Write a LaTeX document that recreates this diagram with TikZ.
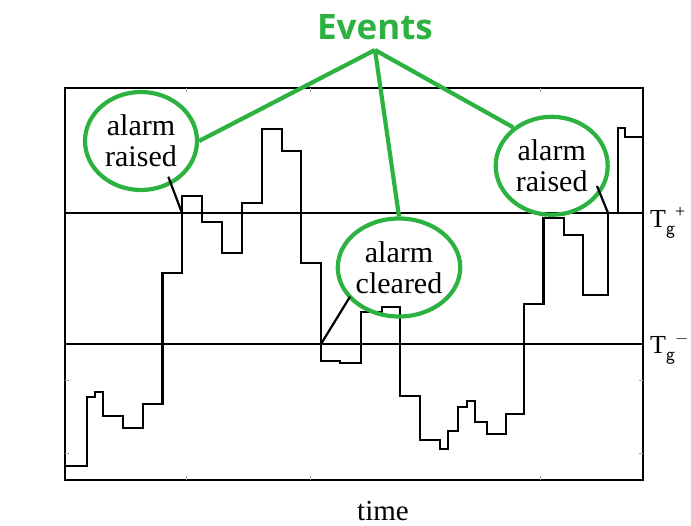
\documentclass[tikz,border=0pt]{standalone}
\usepackage{fontspec}
\setmainfont{Liberation Serif}
\newfontfamily\evfont{Open Sans}
\usetikzlibrary{shapes.geometric, positioning}
\definecolor{evgreen}{RGB}{44,178,64}

\tikzset{
  callout/.style={ellipse, draw=evgreen, line width=4.2pt, minimum width=112pt,
    minimum height=98pt, inner sep=0pt, align=center,
    font=\fontsize{30}{31}\selectfont},
  evline/.style={draw=evgreen, line width=4.2pt},
  sig/.style={line width=2.2pt, line join=miter},
  frame/.style={line width=2.2pt},
  tick/.style={line width=0.6pt, black!35},
  thr/.style={anchor=base west, inner sep=0pt, font=\fontsize{26}{28}\selectfont},
}

\begin{document}
\begin{tikzpicture}[x=1pt, y=-1pt]
        \useasboundingbox (0,0) rectangle (691,525);

        % plot frame and thresholds
        \draw[frame] (65,88) rectangle (643,480);
        \foreach \tx in {186.7, 310, 540} {
          \draw[tick] (\tx,88) -- (\tx,92);
          \draw[tick] (\tx,480) -- (\tx,476);
        }
        \foreach \ty in {380, 453} {
          \draw[tick] (65,\ty) -- (69,\ty);
          \draw[tick] (643,\ty) -- (639,\ty);
        }
        \draw[frame] (65,213) -- (643,213);
        \draw[frame] (65,344) -- (643,344);

        \node[thr] (tplus) at (650,227) {T\raisebox{-7pt}{\sffamily\fontsize{19}{19}\selectfont g}\raisebox{10pt}{\fontsize{18}{18}\selectfont +}};
        \node[thr] (tminus) at (650,353) {T\raisebox{-7pt}{\sffamily\fontsize{19}{19}\selectfont g}\raisebox{10pt}{\fontsize{18}{18}\selectfont $-$}};
        \node[font=\fontsize{29}{30}\selectfont, anchor=base] (time) at (383,520) {time};

        % signal
        \draw[sig] (65,466) -- (86.7,466) -- (86.7,397) -- (95,397) -- (95,392)
          -- (102.7,392) -- (102.7,415.7) -- (122.7,415.7) -- (122.7,428)
          -- (142.7,428) -- (142.7,404) -- (162.5,404) -- (162.5,272.7)
          -- (182,272.7) -- (182,196) -- (202.3,196) -- (202.3,221.7)
          -- (222.3,221.7) -- (222.3,253.3) -- (241.7,253.3) -- (241.7,203.3)
          -- (262.3,203.3) -- (262.3,129) -- (281.7,129) -- (281.7,151)
          -- (301,151) -- (301,263.3) -- (321,263.3) -- (321,360.7)
          -- (340,360.7) -- (340,363.3) -- (360.7,363.3) -- (360.7,311.7)
          -- (381.7,311.7) -- (381.7,306.7) -- (400,306.7) -- (400,396)
          -- (420,396) -- (420,440) -- (440,440) -- (440,449) -- (448.3,449)
          -- (448.3,430.7) -- (458.3,430.7) -- (458.3,406.7) -- (467.3,406.7)
          -- (467.3,400.7) -- (475,400.7) -- (475,421.7) -- (486.7,421.7)
          -- (486.7,434) -- (506,434) -- (506,414.3) -- (524,414.3)
          -- (524,304) -- (543.5,304) -- (543.5,218.3) -- (564,218.3)
          -- (564,235) -- (583.3,235) -- (583.3,295) -- (608,295)
          -- (608,213.3) -- (618.3,213.3) -- (618.3,128.3) -- (625,128.3)
          -- (625,137.3) -- (643,137.3);

        % events
        \node[callout] (raiseA) at (141,141) {alarm\\raised};
        \node[callout] (clear) at (399,267.5) {alarm\\cleared};
        \node[callout] (raiseB) at (551.7,165.8) {alarm\\raised};
        \node[font=\evfont\bfseries\fontsize{35}{40}\selectfont, text=evgreen] (events) at (375,27) {Events};
        \coordinate (apex) at (375,50);

        \draw[evline] (apex) -- (raiseA.0);
        \draw[evline] (apex) -- (clear.north);
        \draw[evline] (apex) -- (raiseB.135);

        % pointers
        \coordinate (pA) at (168.3,176.7);
        \coordinate (hitA) at (182,213);
        \coordinate (pC) at (350,296.7);
        \coordinate (hitC) at (321,344);
        \coordinate (pB) at (597,186);
        \coordinate (hitB) at (608,213);
        \draw[sig] (pA) -- (hitA);
        \draw[sig] (pC) -- (hitC);
        \draw[sig] (pB) -- (hitB);

      \end{tikzpicture}
\end{document}
